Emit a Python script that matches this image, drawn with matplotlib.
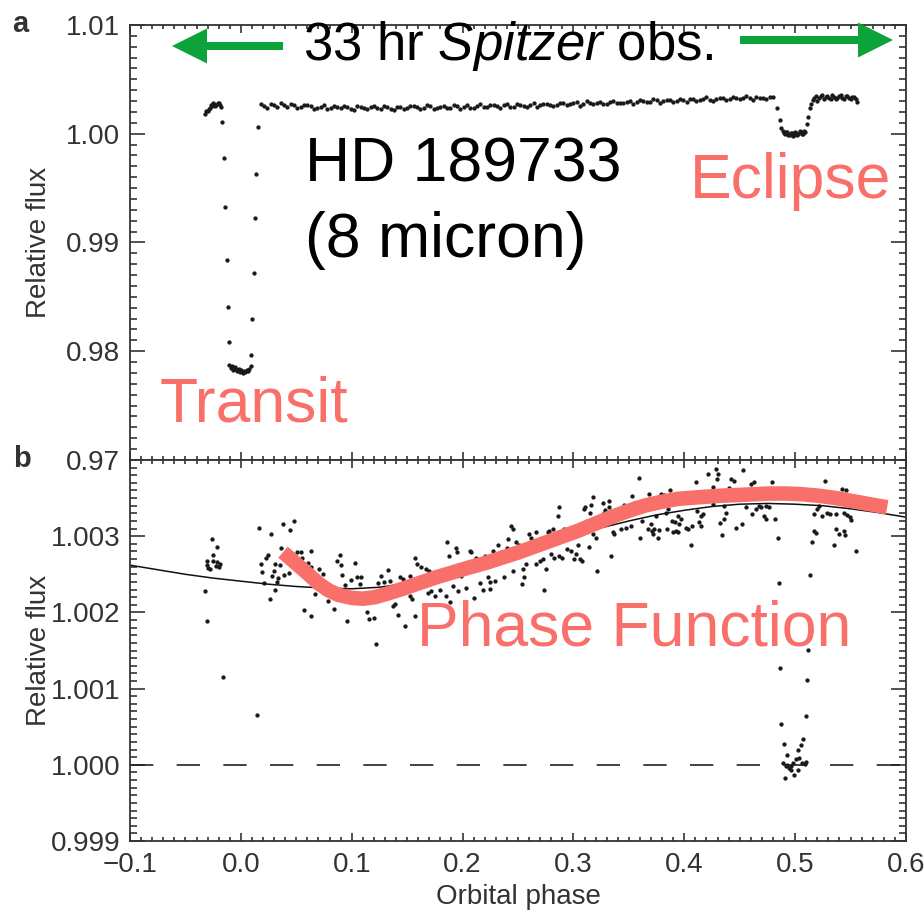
import numpy as np
import matplotlib
matplotlib.use("Agg")
import matplotlib.pyplot as plt
import matplotlib.ticker as ticker
from matplotlib.patches import FancyArrow
from matplotlib.transforms import IdentityTransform

plt.rcParams["font.family"] = ["Liberation Sans", "DejaVu Sans"]
plt.rcParams["mathtext.fontset"] = "custom"
plt.rcParams["mathtext.rm"] = "Liberation Sans"
plt.rcParams["mathtext.it"] = "Liberation Sans:italic"

SALMON = "#F9706A"
GREEN = "#0BA33A"
AXCOL = "#333333"
DOT = "#1a1a1a"

# ---------------------------------------------------------------
# panel a : (orbital phase, flux - 1 in units of 1e-3)
# ---------------------------------------------------------------
A_PRE = [(-0.032, 1.85), (-0.031, 2.05), (-0.030, 2.10), (-0.029, 2.30), (-0.028, 2.40),
         (-0.027, 2.62), (-0.026, 2.55), (-0.025, 2.80), (-0.024, 2.75), (-0.023, 2.55),
         (-0.022, 2.62), (-0.021, 2.85), (-0.020, 2.80), (-0.019, 2.60), (-0.018, 2.50)]

A_INGRESS = [(-0.0168, 1.10), (-0.0156, -2.21), (-0.0144, -6.72),
             (-0.0129, -11.59), (-0.0120, -15.92), (-0.0108, -19.13)]

A_BOTTOM = [(-0.0105, -21.30), (-0.0092, -21.55), (-0.0080, -21.40),
            (-0.0068, -21.70), (-0.0056, -21.45), (-0.0044, -21.60),
            (-0.0032, -21.85), (-0.0020, -21.65), (-0.0008, -21.90),
            (0.0004, -21.75), (0.0016, -22.00), (0.0028, -21.80),
            (0.0040, -21.95), (0.0052, -21.70), (0.0064, -21.85),
            (0.0076, -21.60), (0.0088, -21.40)]

A_EGRESS = [(0.0096, -20.33), (0.0105, -17.02), (0.0117, -12.79),
            (0.0129, -7.73), (0.0141, -3.68), (0.0153, 0.64)]

A_BASE = [(0.018, 2.75), (0.024, 2.39), (0.030, 2.67), (0.036, 2.81), (0.042, 2.44),
          (0.048, 2.67), (0.054, 2.45), (0.060, 2.68), (0.066, 2.32), (0.072, 2.50),
          (0.078, 2.24), (0.084, 2.57), (0.090, 2.36), (0.096, 2.50), (0.102, 2.15),
          (0.108, 2.44), (0.114, 2.29), (0.120, 2.58), (0.126, 2.23), (0.132, 2.44),
          (0.138, 2.19), (0.144, 2.50), (0.150, 2.35), (0.156, 2.56), (0.162, 2.31),
          (0.168, 2.62), (0.174, 2.27), (0.180, 2.47), (0.186, 2.39), (0.192, 2.61),
          (0.198, 2.28), (0.204, 2.60), (0.210, 2.41), (0.216, 2.73), (0.222, 2.50),
          (0.228, 2.67), (0.234, 2.39), (0.240, 2.71), (0.246, 2.48), (0.252, 2.65),
          (0.258, 2.42), (0.264, 2.84), (0.270, 2.61), (0.276, 2.78), (0.282, 2.55),
          (0.288, 2.87), (0.294, 2.64), (0.300, 2.80), (0.306, 2.57), (0.312, 2.99),
          (0.318, 2.76), (0.324, 2.93), (0.330, 2.70), (0.336, 3.02), (0.342, 2.79),
          (0.348, 2.96), (0.354, 2.73), (0.360, 3.10), (0.366, 2.92), (0.372, 3.19),
          (0.378, 2.86), (0.384, 3.08), (0.390, 2.95), (0.396, 3.22), (0.402, 2.89),
          (0.408, 3.21), (0.414, 3.08), (0.420, 3.35), (0.426, 3.02), (0.432, 3.28),
          (0.438, 3.10), (0.444, 3.37), (0.450, 3.18), (0.456, 3.45), (0.462, 3.12),
          (0.468, 3.33), (0.474, 3.20), (0.480, 3.41)]

A_BASE2 = [(0.021, 2.55), (0.027, 2.78), (0.033, 2.45), (0.039, 2.62), (0.045, 2.70),
           (0.051, 2.38), (0.057, 2.60), (0.063, 2.52), (0.069, 2.40), (0.075, 2.62),
           (0.081, 2.33), (0.087, 2.47), (0.093, 2.58), (0.099, 2.30), (0.105, 2.52),
           (0.111, 2.35), (0.117, 2.45), (0.123, 2.40), (0.129, 2.55), (0.135, 2.30),
           (0.141, 2.47), (0.147, 2.25), (0.153, 2.52), (0.159, 2.42), (0.165, 2.34),
           (0.171, 2.53), (0.177, 2.40), (0.183, 2.58), (0.189, 2.33), (0.195, 2.52),
           (0.201, 2.45), (0.207, 2.36), (0.213, 2.58), (0.219, 2.44), (0.225, 2.62),
           (0.231, 2.52), (0.237, 2.60), (0.243, 2.45), (0.249, 2.70), (0.255, 2.58),
           (0.261, 2.66), (0.267, 2.50), (0.273, 2.72), (0.279, 2.68), (0.285, 2.62),
           (0.291, 2.80), (0.297, 2.70), (0.303, 2.88), (0.309, 2.72), (0.315, 2.85),
           (0.321, 2.82), (0.327, 2.78), (0.333, 2.95), (0.339, 2.86), (0.345, 2.84),
           (0.351, 3.05), (0.357, 2.88), (0.363, 2.98), (0.369, 2.95), (0.375, 3.06),
           (0.381, 2.98), (0.387, 3.14), (0.393, 3.05), (0.399, 3.10), (0.405, 3.15),
           (0.411, 3.02), (0.417, 3.20), (0.423, 3.12), (0.429, 3.18), (0.435, 3.30),
           (0.441, 3.16), (0.447, 3.28), (0.453, 3.30), (0.459, 3.25), (0.465, 3.42),
           (0.471, 3.30), (0.477, 3.38)]

A_ECLIPSE = [(0.4838, 2.40), (0.4865, 1.29), (0.4874, 0.55),
             (0.4890, 0.25), (0.4900, 0.05), (0.4910, -0.05), (0.4920, 0.20),
             (0.4930, 0.15), (0.4940, -0.10), (0.4950, -0.15), (0.4960, 0.10),
             (0.4970, 0.05), (0.4980, -0.20), (0.4990, -0.10), (0.5000, 0.15),
             (0.5010, 0.10), (0.5020, -0.12), (0.5030, -0.05), (0.5040, 0.22),
             (0.5050, 0.20), (0.5060, -0.02), (0.5070, 0.00), (0.5080, 0.25),
             (0.5090, 0.15), (0.5108, 0.92), (0.5117, 1.57), (0.5135, 2.40),
             (0.5144, 2.77)]

A_POST = [(0.5160, 3.10), (0.5170, 3.30), (0.5185, 3.50), (0.5200, 3.05), (0.5215, 3.25),
          (0.5230, 3.45), (0.5245, 3.60), (0.5260, 3.20), (0.5275, 3.35), (0.5290, 3.50),
          (0.5305, 3.30), (0.5320, 3.15), (0.5335, 3.55), (0.5350, 3.40), (0.5365, 3.20),
          (0.5380, 3.25), (0.5395, 3.45), (0.5410, 3.55), (0.5425, 3.30), (0.5440, 3.20),
          (0.5455, 3.50), (0.5470, 3.45), (0.5485, 3.25), (0.5500, 3.15), (0.5515, 3.40),
          (0.5530, 3.35), (0.5545, 3.15), (0.5560, 2.95)]

# ---------------------------------------------------------------
# panel b : binned points (orbital phase, flux - 1 in units of 1e-3)
# ---------------------------------------------------------------
B_PRE = [(-0.0264, 2.96), (-0.0214, 2.86), (-0.0250, 2.75), (-0.0306, 2.68),
         (-0.0252, 2.67), (-0.0216, 2.66), (-0.0189, 2.63), (-0.0225, 2.61),
         (-0.0198, 2.59), (-0.0297, 2.58), (-0.0279, 2.57), (-0.0306, 2.62),
         (-0.0324, 2.28), (-0.0309, 1.89), (-0.0165, 1.15), (0.0150, 0.65)]

B_EARLY = [(0.0165, 3.11), (0.0270, 3.03), (0.0381, 3.16), (0.0475, 3.20), (0.0441, 3.08),
           (0.0360, 2.84), (0.0246, 2.75), (0.0225, 2.71), (0.0180, 2.63), (0.0306, 2.63),
           (0.0351, 2.62), (0.0192, 2.53), (0.0300, 2.54), (0.0277, 2.48), (0.0331, 2.45),
           (0.0390, 2.49), (0.0210, 2.39), (0.0322, 2.40), (0.0306, 2.29), (0.0261, 2.18),
           (0.0435, 2.52), (0.0502, 2.79), (0.0541, 2.79), (0.0552, 2.72), (0.0631, 2.81),
           (0.0570, 2.63), (0.0606, 2.65), (0.0637, 2.60), (0.0703, 2.57), (0.0741, 2.50),
           (0.0667, 2.24), (0.0570, 2.03), (0.0637, 1.95), (0.0786, 2.15), (0.0841, 2.05),
           (0.0892, 2.75), (0.0871, 2.68), (0.0907, 2.62), (0.0916, 2.49), (0.1033, 2.65),
           (0.0997, 2.42), (0.1048, 2.46), (0.1087, 2.46), (0.1072, 2.37), (0.0937, 2.36),
           (0.0961, 1.89), (0.1141, 2.00), (0.1156, 1.91), (0.1198, 1.93), (0.1222, 1.59)]

B_MID = [(0.1268, 2.48), (0.1327, 2.55), (0.1288, 2.40), (0.1342, 2.41), (0.1237, 2.38),
         (0.1387, 2.11), (0.1372, 2.08), (0.1417, 1.97), (0.1477, 1.82), (0.1439, 2.46),
         (0.1462, 2.44), (0.1523, 2.48), (0.1523, 2.21), (0.1547, 2.17), (0.1568, 1.95),
         (0.1568, 2.72), (0.1588, 2.64), (0.1628, 2.59), (0.1673, 2.57), (0.1696, 2.54),
         (0.1642, 2.35), (0.1687, 2.26), (0.1718, 2.28), (0.1748, 2.22), (0.1793, 2.30),
         (0.1853, 2.21), (0.1889, 2.14), (0.1862, 2.92), (0.1937, 2.85), (0.1949, 2.79),
         (0.1877, 2.74), (0.1958, 2.62), (0.1913, 2.35), (0.1958, 2.28), (0.1988, 2.48),
         (0.2033, 2.32), (0.2063, 2.81), (0.2078, 2.79), (0.2117, 2.72), (0.2102, 2.19),
         (0.2153, 2.38), (0.2183, 2.30), (0.2198, 2.74), (0.2228, 2.46), (0.2243, 2.40),
         (0.2250, 2.31), (0.2297, 2.41), (0.2273, 2.81), (0.2318, 2.88), (0.2349, 2.79),
         (0.2378, 2.47), (0.2408, 2.96), (0.2399, 2.85), (0.2439, 3.14), (0.2453, 3.09),
         (0.2453, 2.54), (0.2484, 2.92), (0.2507, 2.89), (0.2543, 2.57), (0.2550, 2.47),
         (0.2574, 2.63), (0.2538, 2.37), (0.2598, 3.03), (0.2619, 2.98), (0.2664, 3.05),
         (0.2634, 2.92), (0.2694, 2.68), (0.2723, 2.70), (0.2664, 2.63), (0.2754, 2.57),
         (0.2739, 2.30), (0.2768, 3.05)]

B_LATE = [(0.2799, 2.76), (0.2829, 2.72), (0.2874, 2.74), (0.2895, 2.71), (0.2784, 3.07),
          (0.2814, 3.10), (0.2859, 3.27), (0.2874, 3.38), (0.2919, 3.10), (0.2964, 3.09),
          (0.2943, 2.83), (0.2979, 2.81), (0.3003, 2.70), (0.3024, 2.76), (0.3063, 2.70),
          (0.3075, 2.68), (0.3039, 2.89), (0.3099, 3.36), (0.3108, 3.38), (0.3123, 3.20),
          (0.3138, 2.86), (0.3153, 3.30), (0.3159, 3.41), (0.3174, 3.51), (0.3174, 3.03),
          (0.3204, 2.97), (0.3213, 2.54), (0.3264, 3.44), (0.3279, 3.31), (0.3288, 3.35),
          (0.3324, 3.46), (0.3324, 3.38), (0.3340, 2.74), (0.3354, 3.05), (0.3369, 3.03),
          (0.3430, 3.09), (0.3453, 3.41), (0.3475, 3.11), (0.3520, 3.14), (0.3529, 3.53),
          (0.3550, 3.44), (0.3588, 3.76), (0.3604, 2.98), (0.3616, 3.20), (0.3670, 3.10),
          (0.3685, 3.56), (0.3700, 3.16), (0.3705, 3.07), (0.3730, 3.09), (0.3715, 3.03),
          (0.3759, 2.97), (0.3775, 3.08), (0.3745, 3.27), (0.3790, 3.55), (0.3814, 3.54),
          (0.3835, 3.31), (0.3850, 3.36), (0.3844, 3.10), (0.3874, 3.60), (0.3889, 3.20),
          (0.3919, 3.18), (0.3895, 3.05), (0.3925, 3.07), (0.3946, 3.06), (0.3940, 3.27),
          (0.3970, 3.23), (0.3955, 3.16), (0.4000, 3.57), (0.4015, 3.11), (0.4036, 3.09),
          (0.4060, 2.88), (0.4069, 3.14), (0.4105, 3.71), (0.4114, 3.33), (0.4135, 3.19),
          (0.4150, 3.14), (0.4150, 3.27), (0.4165, 3.29), (0.4216, 3.82), (0.4255, 3.64),
          (0.4255, 3.42), (0.4286, 3.88), (0.4300, 3.82), (0.4295, 3.75), (0.4324, 3.17),
          (0.4336, 3.01)]

B_ECL = [(0.4532, 3.87), (0.4421, 3.75), (0.4450, 3.73), (0.4405, 3.63), (0.4375, 3.53),
         (0.4360, 3.40), (0.4375, 3.31), (0.4360, 3.22), (0.4466, 3.11), (0.4520, 3.16),
         (0.4556, 3.38), (0.4615, 3.29), (0.4601, 3.68), (0.4631, 3.71), (0.4646, 3.36),
         (0.4670, 3.40), (0.4691, 3.38), (0.4721, 3.27), (0.4736, 3.22), (0.4736, 3.40),
         (0.4766, 3.38), (0.4790, 3.71), (0.4820, 3.22), (0.4841, 2.97), (0.4850, 2.39),
         (0.4862, 1.27), (0.4874, 0.54), (0.4895, 0.27), (0.4931, 0.13), (0.4886, 0.02),
         (0.4916, -0.01), (0.4946, -0.04), (0.4961, -0.01), (0.4982, 0.02), (0.4928, 0.00),
         (0.4964, -0.07), (0.4910, -0.17), (0.4991, -0.13), (0.5030, -0.07), (0.5006, 0.08),
         (0.5036, 0.09), (0.5060, 0.02), (0.5090, 0.01), (0.5102, 0.04), (0.5030, 0.20),
         (0.5051, 0.26), (0.5072, 0.34), (0.5102, 0.64), (0.5111, 1.11), (0.5120, 1.51),
         (0.5132, 2.49), (0.5150, 2.93), (0.5171, 3.07), (0.5186, 3.04), (0.5171, 3.29),
         (0.5201, 3.36), (0.5216, 3.40), (0.5246, 3.27), (0.5270, 3.73), (0.5291, 3.30),
         (0.5313, 3.29), (0.5351, 2.89), (0.5366, 3.29), (0.5372, 3.09), (0.5396, 3.03),
         (0.5441, 3.07), (0.5450, 3.01), (0.5426, 3.62), (0.5456, 3.61), (0.5471, 3.28),
         (0.5493, 3.25), (0.5502, 3.21), (0.5547, 2.81), (0.5441, 3.30)]

# model curve (thin black)
MODEL_PHASE = [-0.1, -0.075, -0.05, -0.025, 0.0, 0.025, 0.05, 0.075, 0.1, 0.125,
               0.15, 0.175, 0.2, 0.225, 0.25, 0.275, 0.3, 0.325, 0.35, 0.375,
               0.4, 0.425, 0.45, 0.475, 0.5, 0.525, 0.55, 0.575, 0.6]
MODEL_PPT = [2.62, 2.56, 2.50, 2.45, 2.41, 2.37, 2.34, 2.32, 2.31, 2.33,
             2.38, 2.46, 2.55, 2.66, 2.77, 2.89, 3.00, 3.11, 3.20, 3.28,
             3.34, 3.39, 3.42, 3.43, 3.42, 3.40, 3.36, 3.31, 3.25]

# hand-drawn "phase function" (thick salmon)
PF_PHASE = [0.038, 0.050, 0.061, 0.070, 0.079, 0.088, 0.100, 0.110, 0.121, 0.133,
            0.146, 0.160, 0.176, 0.190, 0.206, 0.221, 0.236, 0.251, 0.266, 0.285,
            0.304, 0.319, 0.334, 0.349, 0.364, 0.379, 0.394, 0.412, 0.431, 0.447,
            0.462, 0.477, 0.492, 0.507, 0.522, 0.537, 0.552, 0.567, 0.583]
PF_PPT = [2.79, 2.64, 2.50, 2.38, 2.29, 2.23, 2.19, 2.18, 2.20, 2.25,
          2.31, 2.38, 2.46, 2.52, 2.59, 2.65, 2.72, 2.79, 2.87, 2.97,
          3.07, 3.16, 3.25, 3.33, 3.40, 3.45, 3.49, 3.51, 3.53, 3.54,
          3.55, 3.56, 3.56, 3.55, 3.53, 3.50, 3.46, 3.42, 3.38]


def xy(pts):
    arr = np.array(pts)
    return arr[:, 0], 1.0 + arr[:, 1] * 1e-3


def style_axes(ax):
    for sp in ax.spines.values():
        sp.set_linewidth(1.3)
        sp.set_color(AXCOL)
    ax.tick_params(which="both", direction="in", top=True, right=True,
                   color=AXCOL, labelcolor=AXCOL, labelsize=20, width=1.2)
    ax.tick_params(axis="x", which="major", length=6, pad=8)
    ax.tick_params(axis="x", which="minor", length=3)
    ax.tick_params(axis="y", which="major", length=11, pad=7)
    ax.tick_params(axis="y", which="minor", length=5)
    ax.set_xlim(-0.1, 0.6)
    ax.xaxis.set_major_locator(ticker.MultipleLocator(0.1))
    ax.xaxis.set_minor_locator(ticker.MultipleLocator(0.01))


fig = plt.figure(figsize=(9.24, 9.10), dpi=100)
ax_a = fig.add_axes([0.14069, 0.49451, 0.83983, 0.47802])
ax_b = fig.add_axes([0.14069, 0.07582, 0.83983, 0.41868])

# ---------------- panel a ----------------
style_axes(ax_a)
ax_a.set_ylim(0.97, 1.01)
ax_a.yaxis.set_major_locator(ticker.MultipleLocator(0.01))
ax_a.yaxis.set_minor_locator(ticker.MultipleLocator(0.001))
ax_a.yaxis.set_major_formatter(ticker.FormatStrFormatter("%.2f"))
ax_a.tick_params(axis="x", labelbottom=False)

for seg in (A_PRE, A_BASE, A_BASE2, A_POST, A_INGRESS, A_BOTTOM, A_EGRESS, A_ECLIPSE):
    px, py = xy(seg)
    ax_a.plot(px, py, "o", color=DOT, ms=3.1, mew=0)

ax_a.set_ylabel("Relative flux", fontsize=20, color=AXCOL)
ax_a.yaxis.set_label_coords(-0.10, 0.5)

# ---------------- panel b ----------------
style_axes(ax_b)
ax_b.set_ylim(0.999, 1.004)
ax_b.set_yticks([0.999, 1.000, 1.001, 1.002, 1.003])
ax_b.yaxis.set_minor_locator(ticker.MultipleLocator(0.0001))
ax_b.yaxis.set_major_formatter(ticker.FormatStrFormatter("%.3f"))

ax_b.axhline(1.0, color="#222222", lw=1.2, dashes=(14, 14))
for seg in (B_PRE, B_EARLY, B_MID, B_LATE, B_ECL):
    px, py = xy(seg)
    ax_b.plot(px, py, "o", color=DOT, ms=3.1, mew=0)
ax_b.plot(MODEL_PHASE, 1.0 + np.array(MODEL_PPT) * 1e-3, color="#111111", lw=1.1)
ax_b.plot(PF_PHASE, 1.0 + np.array(PF_PPT) * 1e-3, color=SALMON, lw=10.5,
          solid_capstyle="butt", solid_joinstyle="round")

ax_b.set_ylabel("Relative flux", fontsize=20, color=AXCOL)
ax_b.yaxis.set_label_coords(-0.10, 0.5)
ax_b.set_xlabel("Orbital phase", fontsize=20, color=AXCOL, labelpad=4)

# ---------------- annotations ----------------
fig.text(0.013, 0.9648, "a", fontsize=21, fontweight="bold", color=AXCOL)
fig.text(0.014, 0.4868, "b", fontsize=21, fontweight="bold", color=AXCOL)

fig.text(0.328, 0.934, r"33 hr $\mathit{Spitzer}$ obs.", fontsize=38,
         color="black", va="baseline")
fig.text(0.330, 0.800, "HD 189733", fontsize=45, color="black", va="baseline")
fig.text(0.330, 0.7176, "(8 micron)", fontsize=45, color="black", va="baseline")
fig.text(0.7468, 0.7824, "Eclipse", fontsize=45, color=SALMON, va="baseline")
fig.text(0.1732, 0.5363, "Transit", fontsize=45, color=SALMON, va="baseline")
fig.text(0.451, 0.2912, "Phase Function", fontsize=45, color=SALMON, va="baseline")

# green arrows, in figure pixels
fig.add_artist(FancyArrow(283, 864, -111, 0, width=8, head_width=35, head_length=35,
                          length_includes_head=True, color=GREEN, lw=0,
                          transform=IdentityTransform()))
fig.add_artist(FancyArrow(740, 870, 153, 0, width=8, head_width=35, head_length=35,
                          length_includes_head=True, color=GREEN, lw=0,
                          transform=IdentityTransform()))

fig.savefig("out.png", dpi=100)
